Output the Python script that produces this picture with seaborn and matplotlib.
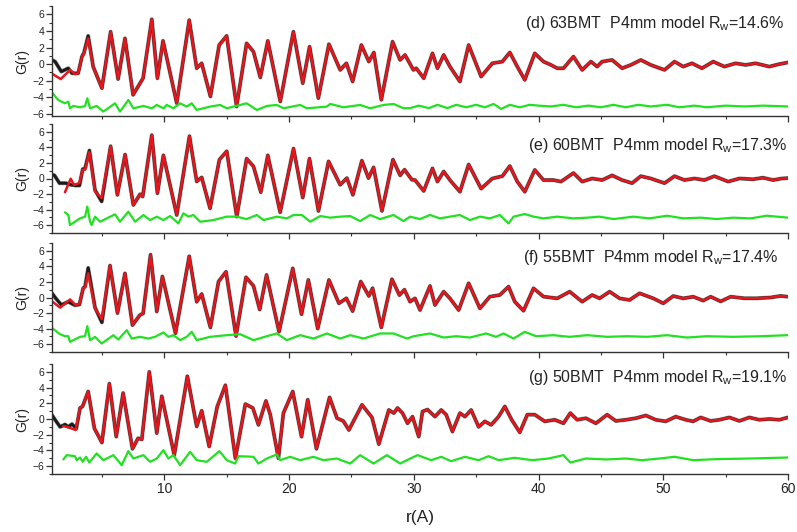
import numpy as np
import pandas as pd
import matplotlib
matplotlib.use("Agg")
import matplotlib.pyplot as plt
from matplotlib.ticker import MultipleLocator
import seaborn as sns

# ---------------- data (r, G) ----------------
labels = ["(d) 63BMT  P4mm model R$_\\mathregular{w}$=14.6%",
          "(e) 60BMT  P4mm model R$_\\mathregular{w}$=17.3%",
          "(f) 55BMT  P4mm model R$_\\mathregular{w}$=17.4%",
          "(g) 50BMT  P4mm model R$_\\mathregular{w}$=19.1%"]

# ---- panel d (63BMT)
calc_d = [(1.05,-1.2),(1.7,-1.8),(2.45,-0.7),(2.85,-1.2),(3.1,-1.1),(3.4,0.9),(3.55,1.2),(3.9,3.1),
          (4.3,-0.3),(5.0,-2.9),(5.7,3.9),(6.3,-1.8),(6.85,3.1),(7.5,-3.7),(7.9,-2.7),(8.3,-1.7),
          (9.0,5.4),(9.45,-1.7),(9.9,2.8),(11.0,-4.7),(12.0,5.3),(12.6,-0.5),(13.0,0.1),(13.7,-3.9),
          (14.4,2.3),(15.0,3.4),(15.8,-5.1),(16.6,2.5),(17.15,1.5),(17.7,-1.6),(18.3,2.8),(19.3,-4.5),
          (20.35,3.9),(21.1,-2.3),(21.65,2.1),(22.35,-4.1),(23.2,2.4),(24.1,-0.7),(24.6,0.1),(25.1,-2.1),
          (25.8,2.3),(26.4,0.3),(26.8,1.4),(27.4,-4.3),(28.3,2.7),(28.9,0.5),(29.3,1.1),(29.97,-0.7),
          (30.2,-0.5),(30.8,-1.7),(31.5,1.3),(31.9,-0.5),(32.4,1.1),(32.9,-0.3),(33.7,-2.1),(34.4,2.3),
          (35.4,-1.5),(36.3,0.1),(37.1,0.3),(37.7,1.4),(38.3,-0.3),(38.9,-1.9),(39.7,1.3),(40.4,0.3),
          (41.0,-0.1),(41.5,-0.5),(42.0,-0.5),(42.8,0.9),(43.5,-0.7),(44.2,0.3),(44.7,-0.3),(45.1,0.3),
          (45.9,0.5),(46.7,-0.5),(47.4,-0.1),(48.2,0.5),(49.0,-0.1),(50.1,-0.7),(50.9,0.3),(51.6,-0.3),
          (52.3,0.1),(53.1,-0.5),(54.0,0.3),(54.9,-0.3),(55.8,0.1),(56.6,-0.1),(57.4,0.1),(58.5,-0.3),
          (59.3,0.0),(60.0,0.2)]
obs_low_d = [(1.0,0.5),(1.25,0.3),(1.75,-0.9),(2.3,-0.5),(2.6,-1.1),(3.1,-1.1),(3.4,0.9),(3.55,1.3),
             (3.9,3.4),(4.3,-0.3)]
diff_d = [(1.05,-3.52),(1.5,-4.32),(2.04,-4.72),(2.31,-4.52),(2.44,-5.32),(2.71,-5.04),(3.25,-5.2),
          (3.65,-5.04),(3.83,-4.12),(4.05,-5.32),(4.58,-5.04),(5.12,-5.72),(6.05,-4.72),(6.45,-5.72),
          (7.12,-4.32),(7.52,-5.32),(8.33,-5.04),(9.0,-5.32),(9.4,-4.92),(9.93,-5.32),(10.2,-4.92),
          (10.73,-5.32),(11.27,-4.72),(11.8,-5.12),(12.2,-4.72),(12.6,-5.52),(13.67,-5.12),(14.48,-4.92),
          (15.01,-5.32),(16.08,-4.92),(16.6,-4.72),(17.42,-5.52),(18.22,-5.04),(19.02,-4.92),(19.56,-5.32),
          (20.9,-4.92),(21.43,-5.32),(23.03,-5.12),(23.3,-4.8),(24.37,-5.2),(25.7,-4.92),(26.5,-5.32),
          (27.58,-4.92),(28.38,-4.8),(29.18,-5.32),(29.7,-5.3),(30.4,-5.0),(31.2,-5.3),(31.9,-4.9),
          (32.7,-5.3),(33.4,-4.9),(34.2,-5.2),(35.0,-4.9),(35.7,-5.2),(36.4,-4.8),(37.0,-5.4),(37.7,-4.9),
          (38.5,-5.2),(39.3,-4.9),(40.0,-5.0),(41.0,-5.1),(42.0,-4.9),(43.0,-5.2),(44.0,-5.0),(45.0,-5.2),
          (46.0,-4.9),(47.0,-5.2),(48.0,-4.9),(49.0,-5.1),(50.3,-4.9),(51.3,-5.2),(52.5,-5.0),(53.5,-5.2),
          (55.0,-5.0),(56.5,-5.1),(58.0,-5.0),(60.0,-5.1)]

# ---- panel e (60BMT)
calc_e = [(2.04,-1.76),(2.5,-0.03),(2.76,-0.81),(3.19,-0.59),(3.46,1.13),(3.65,1.13),(4.0,3.41),
          (4.45,-1.67),(4.98,-2.53),(5.7,4.15),(6.24,-2.1),(6.86,3.07),(7.52,-3.4),(8.06,-2.02),
          (8.27,-2.32),(9.0,5.57),(9.45,-1.89),(9.93,2.98),(11.0,-4.69),(12.02,5.44),(12.6,-0.38),
          (13.0,0.14),(13.67,-3.83),(14.42,2.42),(15.01,3.5),(15.81,-4.9),(16.6,2.55),(17.15,1.56),
          (17.74,-1.76),(18.3,2.98),(19.29,-4.34),(20.36,3.84),(21.1,-2.45),(21.64,2.55),(22.36,-4.17),
          (23.17,2.2),(24.1,-0.81),(24.64,0.05),(25.12,-2.1),(25.84,2.29),(26.37,0.05),(26.78,1.43),
          (27.45,-4.17),(28.33,2.42),(28.91,0.4),(29.26,1.13),(29.85,-0.16),(30.1,-0.2),(30.8,-1.6),
          (31.5,1.3),(31.9,-0.4),(32.4,0.9),(32.9,-0.2),(33.7,-1.7),(34.4,1.8),(35.4,-1.3),(36.3,0.0),
          (37.1,0.3),(37.7,1.6),(38.3,-0.4),(38.9,-1.7),(39.7,1.1),(40.4,-0.2),(41.2,-0.2),(41.8,-0.4),
          (42.8,0.7),(43.5,-0.4),(44.3,0.0),(45.1,-0.2),(45.9,0.4),(46.7,-0.2),(47.5,-0.6),(48.2,0.3),
          (49.0,0.0),(50.1,-0.6),(50.9,0.3),(51.7,-0.2),(52.5,0.0),(53.3,-0.2),(54.1,0.3),(55.2,-0.4),
          (56.1,0.0),(57.2,-0.1),(58.0,0.1),(58.8,-0.2),(59.5,0.0),(60.0,0.05)]
obs_low_e = [(1.0,0.5),(1.2,0.4),(1.6,-0.6),(2.1,-0.6),(2.5,-0.8),(2.9,-0.9),(3.2,-0.9),(3.46,1.2),
             (3.65,1.3),(4.0,3.6),(4.45,-1.5),(4.98,-2.95)]
diff_e = [(2.04,-4.34),(2.31,-4.69),(2.44,-5.98),(2.84,-5.55),(3.25,-5.12),(3.65,-4.9),(3.83,-3.61),
          (4.05,-5.55),(4.18,-5.98),(4.45,-4.9),(4.85,-5.55),(5.39,-5.12),(6.05,-4.6),(6.45,-5.55),
          (7.12,-4.26),(7.66,-5.55),(8.33,-4.69),(8.86,-5.34),(9.4,-4.9),(9.93,-5.34),(10.47,-4.82),
          (11.13,-5.77),(11.53,-4.47),(11.94,-4.9),(12.34,-4.69),(12.87,-5.55),(13.94,-5.34),(15.01,-4.9),
          (15.81,-4.9),(16.6,-5.21),(17.42,-4.69),(17.95,-5.34),(19.02,-4.9),(19.82,-5.12),(20.36,-4.69),
          (21.03,-4.69),(21.7,-5.55),(22.5,-4.82),(23.3,-5.03),(24.1,-4.9),(24.9,-4.82),(25.7,-5.47),
          (26.5,-4.69),(27.3,-5.21),(28.38,-4.69),(29.18,-5.47),(29.7,-4.9),(30.5,-5.21),(31.3,-4.69),
          (32.1,-5.12),(32.9,-4.9),(33.7,-4.69),(34.5,-5.34),(35.3,-4.9),(36.1,-5.12),(36.9,-4.69),
          (37.6,-5.77),(38.0,-4.9),(38.9,-4.56),(39.6,-4.9),(40.4,-5.12),(41.5,-4.9),(42.8,-5.12),
          (43.9,-5.03),(44.9,-4.9),(46.0,-5.21),(47.6,-4.9),(48.9,-5.12),(50.3,-4.78),(51.6,-5.12),
          (53.0,-5.03),(54.3,-5.21),(55.6,-5.03),(57.0,-5.12),(58.3,-4.78),(60.0,-5.03)]

# ---- panel f (55BMT)
calc_f = [(1.05,-0.55),(1.65,-1.3),(2.45,-0.25),(2.9,-1.0),(3.2,-0.85),(3.5,1.2),(3.65,1.3),(3.9,3.1),
          (4.45,-1.4),(5.0,-2.8),(5.65,4.1),(6.25,-2.0),(6.85,3.1),(7.45,-3.55),(8.05,-2.25),(8.3,-2.05),
          (8.9,5.5),(9.4,-1.8),(9.85,2.7),(10.9,-4.6),(12.0,5.3),(12.6,-0.55),(13.0,0.45),(13.7,-3.85),
          (14.35,2.05),(14.95,3.3),(15.75,-4.95),(16.55,2.6),(17.15,1.5),(17.65,-1.55),(18.2,2.9),
          (19.2,-4.4),(20.3,3.75),(21.0,-2.15),(21.55,2.25),(22.3,-4.0),(23.2,2.25),(24.0,-0.75),
          (24.6,-0.1),(25.1,-1.75),(25.75,2.05),(26.4,0.2),(26.7,1.2),(27.4,-3.85),(28.25,2.35),
          (28.85,0.3),(29.25,1.0),(29.7,-0.54),(30.1,-0.11),(30.5,-1.61),(31.3,1.48),(31.7,-0.97),
          (32.4,0.75),(32.9,-0.11),(33.6,-1.61),(34.4,1.83),(35.3,-1.4),(36.1,0.11),(36.9,0.32),
          (37.6,1.4),(38.1,-0.54),(38.8,-1.7),(39.6,1.18),(40.4,0.11),(41.5,-0.11),(42.5,0.75),
          (43.5,-0.54),(44.3,0.32),(44.9,-0.11),(45.7,0.75),(46.5,-0.11),(47.3,-0.32),(48.1,0.54),
          (49.2,-0.11),(50.0,-0.75),(50.8,0.19),(51.6,-0.11),(52.4,0.1),(53.2,-0.4),(53.8,0.1),
          (54.6,-0.5),(55.4,0.1),(56.5,-0.1),(57.5,-0.1),(58.6,0.0),(59.4,0.2),(60.0,0.1)]
obs_low_f = [(1.0,0.55),(1.3,-0.1),(1.75,-0.95),(2.3,-0.55),(2.85,-1.0),(3.2,-0.9),(3.5,1.2),
             (3.65,1.4),(3.9,3.8),(4.45,-1.3),(5.0,-3.2)]
diff_f = [(1.05,-3.98),(1.64,-4.71),(2.04,-4.97),(2.31,-4.97),(2.44,-5.7),(3.25,-5.05),(3.65,-4.97),
          (3.83,-3.68),(4.05,-5.48),(4.45,-5.05),(4.98,-5.91),(5.92,-4.84),(6.32,-5.4),(6.99,-4.19),
          (7.39,-5.27),(8.06,-5.05),(8.73,-5.27),(9.26,-5.05),(9.93,-4.49),(10.33,-5.05),(10.73,-4.84),
          (11.27,-5.48),(11.8,-5.05),(12.2,-4.41),(12.6,-5.48),(13.67,-5.05),(15.01,-4.84),(16.08,-4.71),
          (17.15,-5.48),(18.22,-4.97),(19.02,-4.62),(19.82,-5.48),(20.89,-4.84),(21.96,-5.27),
          (23.03,-4.62),(24.1,-5.27),(24.9,-4.84),(25.97,-5.27),(27.31,-4.62),(28.38,-4.62),
          (29.45,-5.27),(30.0,-4.97),(31.3,-4.62),(32.4,-5.14),(33.4,-4.97),(34.5,-5.14),(35.8,-4.62),
          (36.6,-5.05),(37.2,-4.62),(38.0,-5.27),(38.9,-4.41),(39.8,-4.97),(41.2,-4.84),(42.5,-5.05),
          (43.9,-4.84),(45.5,-5.05),(47.1,-4.97),(48.7,-5.05),(50.3,-4.84),(51.9,-5.14),(53.5,-4.97),
          (55.6,-5.05),(57.8,-4.97),(60.0,-4.84)]

# ---- panel g (50BMT)
calc_g = [(1.9,-0.9),(2.2,-1.0),(2.9,-1.4),(3.25,1.4),(3.45,1.6),(3.9,3.5),(4.4,-1.2),(5.0,-3.0),
          (5.6,4.5),(6.15,-2.25),(6.7,3.3),(7.45,-3.8),(7.9,-2.45),(8.2,-2.6),(8.8,6.0),(9.4,-1.8),
          (9.8,2.9),(10.8,-4.6),(11.85,5.45),(12.6,-0.95),(13.0,1.05),(13.6,-3.5),(14.25,1.6),
          (14.9,4.3),(15.7,-5.0),(16.5,1.9),(17.1,1.4),(17.55,-0.75),(18.15,2.3),(18.5,0.55),
          (19.15,-5.0),(19.55,0.75),(20.3,3.5),(21.0,-2.25),(21.5,2.45),(22.2,-3.8),(23.25,2.75),
          (23.85,0.1),(24.35,-0.25),(24.8,-1.4),(25.85,1.8),(26.65,0.2),(27.2,-3.2),(28.0,1.15),
          (28.4,0.75),(28.7,1.4),(29.1,0.75),(29.5,-0.55),(29.9,0.3),(30.4,-2.25),(30.7,0.95),
          (31.1,1.2),(31.7,0.3),(32.2,1.15),(32.6,0.55),(33.1,-1.6),(33.7,0.75),(34.1,0.3),(34.6,1.15),
          (35.2,-1.0),(35.7,-0.3),(36.2,-0.75),(36.8,0.3),(37.3,1.6),(37.85,-0.1),(38.5,-1.7),
          (39.1,0.55),(39.7,0.55),(40.5,-0.3),(41.3,-0.1),(42.0,-0.55),(42.55,0.75),(43.1,-0.1),
          (43.8,0.1),(44.6,-0.55),(45.5,0.55),(46.2,-0.25),(47.0,-0.1),(47.8,0.1),(48.6,0.45),
          (49.4,-0.1),(50.2,-0.3),(51.0,0.3),(51.8,-0.1),(52.4,-0.3),(53.0,0.2),(53.8,-0.25),
          (54.5,-0.1),(55.3,0.2),(56.1,-0.25),(56.9,0.2),(57.7,-0.1),(58.5,0.0),(59.3,-0.1),(60.0,0.2)]
obs_low_g = [(1.0,0.5),(1.25,-0.1),(1.65,-1.0),(2.05,-0.7),(2.3,-1.0),(2.6,-0.65),(2.95,-1.2)]
diff_g = [(1.91,-5.15),(2.18,-4.6),(2.84,-4.73),(2.98,-5.24),(3.25,-4.9),(3.46,-5.45),(3.73,-4.81),
          (3.99,-5.54),(4.58,-4.38),(5.12,-5.24),(5.92,-4.6),(6.59,-5.88),(7.12,-4.09),(7.52,-5.03),
          (8.33,-4.6),(8.86,-5.45),(9.4,-5.03),(9.93,-3.96),(10.33,-5.03),(10.73,-4.6),(11.27,-5.88),
          (12.07,-4.17),(12.6,-5.24),(13.41,-5.45),(14.42,-4.09),(15.01,-5.24),(15.68,-5.67),
          (15.95,-4.73),(17.15,-4.81),(17.55,-5.67),(18.22,-5.03),(19.02,-4.51),(19.29,-5.24),
          (20.09,-4.81),(20.89,-5.24),(21.96,-4.81),(22.76,-5.24),(23.83,-5.03),(24.9,-5.67),
          (25.7,-4.6),(26.78,-5.67),(27.84,-4.6),(28.91,-5.67),(29.72,-5.03),(30.3,-4.6),(31.4,-5.24),
          (32.2,-4.81),(33.0,-5.37),(34.1,-4.81),(35.2,-5.24),(36.0,-4.73),(36.8,-5.24),(38.1,-4.94),
          (39.5,-5.24),(40.8,-5.03),(42.0,-4.6),(42.55,-5.54),(43.8,-5.03),(45.4,-5.15),(47.0,-5.03),
          (48.3,-5.24),(49.7,-5.03),(50.9,-4.81),(52.4,-5.24),(54.2,-5.11),(56.9,-5.03),(60.0,-4.9)]

panels = [(calc_d, obs_low_d, diff_d), (calc_e, obs_low_e, diff_e),
          (calc_f, obs_low_f, diff_f), (calc_g, obs_low_g, diff_g)]
ylims = [(-6.25, 7.0), (-7.0, 7.0), (-7.0, 7.0), (-7.0, 7.0)]
label_pos = [(0.996, 0.845), (1.0, 0.807), (0.986, 0.87), (1.0, 0.873)]

# ---------------- drawing ----------------
sns.set_theme(style="ticks")
plt.rcParams['font.family'] = ['Liberation Sans', 'DejaVu Sans']
plt.rcParams['mathtext.fontset'] = 'custom'
plt.rcParams['mathtext.rm'] = 'Liberation Sans'
plt.rcParams['lines.solid_joinstyle'] = 'round'
plt.rcParams['lines.solid_capstyle'] = 'round'

W, H = 797, 532
fig = plt.figure(figsize=(W / 100, H / 100), dpi=100)
boxes = [(6, 116), (124, 233), (243, 352), (364, 474)]
left, right = 52, 788

RED = "#e8161c"
GREEN = "#22e022"
BLACK = "#1a1a1a"

for i, ((calc, obs_low, diff), (top, bot)) in enumerate(zip(panels, boxes)):
    ax = fig.add_axes([left / W, 1 - bot / H, (right - left) / W, (bot - top) / H])
    calc_df = pd.DataFrame(calc, columns=["r", "G"])
    low_df = pd.DataFrame(obs_low, columns=["r", "G"])
    obs_df = pd.concat([low_df, calc_df[calc_df.r > low_df.r.max()]], ignore_index=True)
    diff_df = pd.DataFrame(diff, columns=["r", "G"])

    sns.lineplot(data=obs_df, x="r", y="G", ax=ax, color="#8a8a8a", lw=2.9, sort=False, estimator=None)
    sns.lineplot(data=obs_df, x="r", y="G", ax=ax, color=BLACK, lw=2.1, sort=False, estimator=None)
    sns.lineplot(data=calc_df, x="r", y="G", ax=ax, color=RED, lw=1.8, sort=False, estimator=None)
    sns.lineplot(data=diff_df, x="r", y="G", ax=ax, color=GREEN, lw=1.6, sort=False, estimator=None)

    ax.set_xlim(1, 60)
    ax.set_ylim(*ylims[i])
    ax.xaxis.set_major_locator(MultipleLocator(10))
    ax.xaxis.set_minor_locator(MultipleLocator(5))
    ax.yaxis.set_major_locator(MultipleLocator(2))
    ax.yaxis.set_minor_locator(MultipleLocator(1))
    ax.set_yticks([-6, -4, -2, 0, 2, 4, 6])
    ax.tick_params(which="major", direction="out", length=4, width=0.9, colors="#333333",
                   labelcolor="#222222")
    ax.tick_params(which="minor", direction="out", length=2, width=0.8, colors="#333333")
    ax.tick_params(axis="y", labelsize=7.5, pad=1.5)
    ax.tick_params(axis="x", labelsize=10, pad=2)
    for s in ["top", "right"]:
        ax.spines[s].set_visible(False)
    for s in ["left", "bottom"]:
        ax.spines[s].set_linewidth(1.0)
        ax.spines[s].set_color("#333333")
    ax.set_ylabel("G(r)", fontsize=10, labelpad=2, color="#222222")
    if i < 3:
        ax.set_xlabel("")
        ax.tick_params(axis="x", labelbottom=False)
    else:
        ax.set_xlabel("r(A)", fontsize=12.5, labelpad=10, color="#222222")
    ax.set_facecolor("white")
    lx, ly = label_pos[i]
    ax.text(lx, ly, labels[i], transform=ax.transAxes, ha="right", va="center",
            fontsize=11.5, color="#222222")

fig.savefig("out.png", dpi=100, facecolor="white")
